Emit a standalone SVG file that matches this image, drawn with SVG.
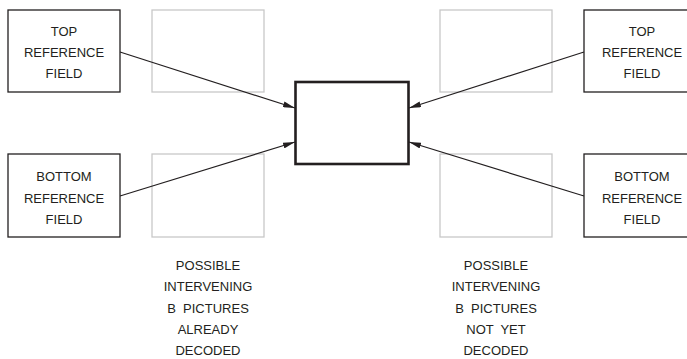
<svg xmlns="http://www.w3.org/2000/svg" width="687" height="359" viewBox="0 0 687 359">
<defs>
<style>
.ref{fill:#fff;stroke:#231f20;stroke-width:1.3}
.ghost{fill:#fff;stroke:#c8c8c8;stroke-width:1.3}
.cur{fill:#fff;stroke:#231f20;stroke-width:2.6}
.t{font-family:"Liberation Sans",Arial,sans-serif;font-size:13px;fill:#231f20;text-anchor:middle;white-space:pre}
.c{stroke:#231f20;stroke-width:1.2;fill:none;marker-end:url(#ah)}
</style>
<marker id="ah" viewBox="0 0 12 6" refX="12" refY="3" markerWidth="12" markerHeight="6" markerUnits="userSpaceOnUse" orient="auto">
<path d="M0,0 L12,3 L0,6 Z" fill="#231f20"/>
</marker>
</defs>
<rect width="687" height="359" fill="#fff"/>
<g id="ghost-left-top"><rect class="ghost" x="152" y="10" width="112" height="82"/></g>
<g id="ghost-left-bottom"><rect class="ghost" x="152" y="154" width="112" height="83"/></g>
<g id="ghost-right-top"><rect class="ghost" x="440" y="10" width="112" height="82"/></g>
<g id="ghost-right-bottom"><rect class="ghost" x="440" y="154" width="112" height="83"/></g>
<g id="connectors">
<line class="c" x1="120" y1="52" x2="295" y2="108"/>
<line class="c" x1="120" y1="196" x2="295" y2="142"/>
<line class="c" x1="584" y1="52" x2="409" y2="108"/>
<line class="c" x1="584" y1="196" x2="409" y2="142"/>
</g>
<g id="current"><rect class="cur" x="295.5" y="82" width="113" height="82"/></g>
<g id="left-top"><rect class="ref" x="8" y="10" width="112" height="82"/>
<text class="t" x="64" y="35.5">TOP</text><text class="t" x="64" y="57">REFERENCE</text><text class="t" x="64" y="78">FIELD</text></g>
<g id="left-bottom"><rect class="ref" x="8" y="154" width="112" height="83"/>
<text class="t" x="64" y="181">BOTTOM</text><text class="t" x="64" y="202.5">REFERENCE</text><text class="t" x="64" y="224">FIELD</text></g>
<g id="right-top"><rect class="ref" x="584" y="10" width="114" height="82"/>
<text class="t" x="642" y="35.5">TOP</text><text class="t" x="642" y="57">REFERENCE</text><text class="t" x="642" y="78">FIELD</text></g>
<g id="right-bottom"><rect class="ref" x="584" y="154" width="114" height="83"/>
<text class="t" x="642" y="181">BOTTOM</text><text class="t" x="642" y="202.5">REFERENCE</text><text class="t" x="642" y="224">FIELD</text></g>
<g id="label-left">
<text class="t" x="208" y="270">POSSIBLE</text><text class="t" x="208" y="291">INTERVENING</text><text class="t" x="208" y="312.5">B  PICTURES</text><text class="t" x="208" y="334">ALREADY</text><text class="t" x="208" y="355">DECODED</text>
</g>
<g id="label-right">
<text class="t" x="496" y="270">POSSIBLE</text><text class="t" x="496" y="291">INTERVENING</text><text class="t" x="496" y="312.5">B  PICTURES</text><text class="t" x="496" y="334">NOT  YET</text><text class="t" x="496" y="355">DECODED</text>
</g>
</svg>
